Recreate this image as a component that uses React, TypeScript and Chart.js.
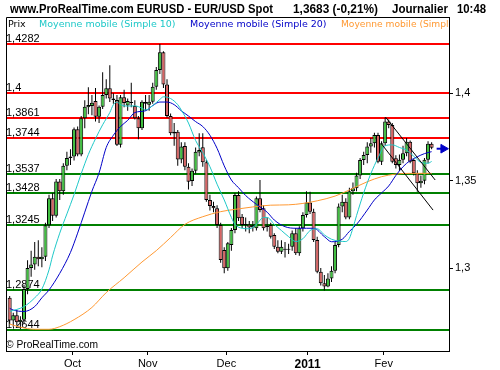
import React, { useEffect, useRef } from "react";
import { Chart, registerables } from "chart.js";

Chart.register(...registerables);

// ---- Daily candles (index 0 = first session shown, early September 2010) ----
const opens = [
  1.2830, 1.2700, 1.2730, 1.2690, 1.2705, 1.2880, 1.3000, 1.3020, 1.3065, 1.3050,
  1.3065, 1.3245, 1.3400, 1.3300, 1.3495, 1.3440, 1.3585, 1.3630, 1.3638, 1.3794,
  1.3650, 1.3857, 1.3920, 1.3927, 1.3956, 1.3866, 1.3923, 1.3990, 1.4029, 1.3970,
  1.3962, 1.3705, 1.3977, 1.3930, 1.3950, 1.3927, 1.3857, 1.3800, 1.3950, 1.3935,
  1.3952, 1.4038, 1.4133, 1.4235, 1.4050, 1.3870, 1.3780, 1.3780, 1.3622, 1.3699,
  1.3580, 1.3498, 1.3557, 1.3662, 1.3691, 1.3605, 1.3390, 1.3355, 1.3342, 1.3247,
  1.3104, 1.2999, 1.3132, 1.3218, 1.3418, 1.3294, 1.3247, 1.3250, 1.3232, 1.3228,
  1.3399, 1.3342, 1.3240, 1.3247, 1.3189, 1.3122, 1.3094, 1.3110, 1.3105, 1.3122,
  1.3199, 1.3085, 1.3228, 1.3304, 1.3375, 1.3323, 1.3161, 1.2979, 1.2913, 1.2895,
  1.2940, 1.2985, 1.3132, 1.3352, 1.3380, 1.3290, 1.3440, 1.3457, 1.3530, 1.3618,
  1.3647, 1.3695, 1.3714, 1.3761, 1.3609, 1.3714, 1.3838, 1.3819, 1.3628, 1.3590,
  1.3620, 1.3657, 1.3723, 1.3618, 1.3542, 1.3485, 1.3500, 1.3620, 1.3712,
];
const highs = [
  1.2840, 1.2745, 1.2760, 1.2725, 1.2905, 1.3045, 1.3100, 1.3150, 1.3160, 1.3120,
  1.3260, 1.3420, 1.3430, 1.3510, 1.3510, 1.3600, 1.3665, 1.3680, 1.3805, 1.3810,
  1.3870, 1.3960, 1.4035, 1.3990, 1.4030, 1.3930, 1.4120, 1.4080, 1.4160, 1.4000,
  1.3990, 1.3990, 1.4020, 1.3970, 1.4060, 1.3960, 1.3870, 1.3960, 1.3990, 1.3990,
  1.4060, 1.4150, 1.4282, 1.4240, 1.4080, 1.3885, 1.3830, 1.3790, 1.3720, 1.3720,
  1.3600, 1.3570, 1.3690, 1.3771, 1.3771, 1.3620, 1.3420, 1.3380, 1.3360, 1.3260,
  1.3120, 1.3150, 1.3230, 1.3430, 1.3440, 1.3310, 1.3290, 1.3270, 1.3270, 1.3410,
  1.3504, 1.3360, 1.3290, 1.3260, 1.3200, 1.3160, 1.3160, 1.3150, 1.3140, 1.3215,
  1.3230, 1.3240, 1.3320, 1.3440, 1.3437, 1.3340, 1.3180, 1.3000, 1.2960, 1.2970,
  1.3010, 1.3150, 1.3370, 1.3420, 1.3400, 1.3460, 1.3490, 1.3545, 1.3630, 1.3665,
  1.3720, 1.3745, 1.3775, 1.3775, 1.3725, 1.3862, 1.3850, 1.3830, 1.3645, 1.3650,
  1.3700, 1.3745, 1.3730, 1.3625, 1.3560, 1.3530, 1.3630, 1.3725, 1.3720,
];
const lows = [
  1.2680, 1.2665, 1.2670, 1.2650, 1.2680, 1.2850, 1.2950, 1.2990, 1.3010, 1.3005,
  1.3040, 1.3230, 1.3270, 1.3290, 1.3390, 1.3420, 1.3560, 1.3590, 1.3615, 1.3640,
  1.3640, 1.3800, 1.3880, 1.3875, 1.3838, 1.3830, 1.3910, 1.3970, 1.3950, 1.3940,
  1.3699, 1.3690, 1.3920, 1.3900, 1.3920, 1.3850, 1.3737, 1.3790, 1.3900, 1.3900,
  1.3940, 1.4020, 1.4110, 1.4030, 1.3860, 1.3760, 1.3700, 1.3585, 1.3600, 1.3560,
  1.3450, 1.3470, 1.3540, 1.3640, 1.3580, 1.3380, 1.3330, 1.3320, 1.3230, 1.3030,
  1.2970, 1.2985, 1.3100, 1.3200, 1.3270, 1.3230, 1.3210, 1.3200, 1.3210, 1.3215,
  1.3320, 1.3215, 1.3210, 1.3170, 1.3110, 1.3085, 1.3080, 1.3060, 1.3080, 1.3100,
  1.3075, 1.3070, 1.3210, 1.3290, 1.3310, 1.3150, 1.2970, 1.2900, 1.2872, 1.2890,
  1.2920, 1.2970, 1.3120, 1.3320, 1.3280, 1.3280, 1.3420, 1.3440, 1.3510, 1.3590,
  1.3600, 1.3660, 1.3690, 1.3600, 1.3590, 1.3700, 1.3800, 1.3600, 1.3570, 1.3555,
  1.3600, 1.3640, 1.3600, 1.3530, 1.3437, 1.3460, 1.3480, 1.3600, 1.3680,
];
const closes = [
  1.2700, 1.2730, 1.2690, 1.2705, 1.2880, 1.3000, 1.3020, 1.3065, 1.3050, 1.3065,
  1.3245, 1.3400, 1.3300, 1.3495, 1.3440, 1.3585, 1.3630, 1.3638, 1.3794, 1.3650,
  1.3857, 1.3923, 1.3933, 1.3946, 1.3866, 1.3923, 1.3990, 1.4029, 1.3970, 1.3962,
  1.3705, 1.3977, 1.3945, 1.3956, 1.3945, 1.3857, 1.3800, 1.3952, 1.3940, 1.3952,
  1.4038, 1.4133, 1.4235, 1.4050, 1.3870, 1.3771, 1.3770, 1.3622, 1.3695, 1.3580,
  1.3494, 1.3557, 1.3666, 1.3676, 1.3605, 1.3390, 1.3355, 1.3343, 1.3247, 1.3046,
  1.2999, 1.3142, 1.3218, 1.3418, 1.3285, 1.3247, 1.3250, 1.3232, 1.3245, 1.3399,
  1.3332, 1.3228, 1.3235, 1.3180, 1.3122, 1.3094, 1.3122, 1.3105, 1.3110, 1.3199,
  1.3085, 1.3228, 1.3304, 1.3375, 1.3323, 1.3161, 1.2979, 1.2913, 1.2895, 1.2940,
  1.2985, 1.3132, 1.3352, 1.3380, 1.3290, 1.3440, 1.3457, 1.3530, 1.3618, 1.3647,
  1.3695, 1.3714, 1.3761, 1.3609, 1.3714, 1.3838, 1.3819, 1.3609, 1.3590, 1.3620,
  1.3657, 1.3723, 1.3609, 1.3542, 1.3485, 1.3500, 1.3620, 1.3712, 1.3689,
];

// ---- Moving averages (day index, value) ----
const ma10Days = [0, 4, 7, 9, 11, 12, 14, 16, 18, 20, 22, 24, 26, 28, 29, 30, 31, 33, 35, 37, 38, 40, 42, 43, 45, 47, 48, 50, 52, 54, 56, 58, 60, 62, 63, 65, 67, 69, 71, 72, 74, 76, 78, 80, 82, 84, 86, 88, 90, 92, 94, 95, 96, 97, 99, 101, 103, 105, 107, 109, 111, 113, 115, 117, 118];
const ma10Values = [1.2752, 1.2780, 1.2830, 1.2880, 1.2990, 1.3070, 1.3200, 1.3310, 1.3420, 1.3540, 1.3650, 1.3740, 1.3820, 1.3890, 1.3935, 1.3950, 1.3935, 1.3927, 1.3928, 1.3915, 1.3905, 1.3930, 1.3965, 1.3980, 1.3970, 1.3935, 1.3904, 1.3830, 1.3730, 1.3660, 1.3580, 1.3480, 1.3390, 1.3290, 1.3250, 1.3228, 1.3225, 1.3250, 1.3290, 1.3290, 1.3250, 1.3215, 1.3180, 1.3152, 1.3168, 1.3215, 1.3225, 1.3190, 1.3165, 1.3155, 1.3152, 1.3170, 1.3230, 1.3300, 1.3430, 1.3540, 1.3630, 1.3700, 1.3705, 1.3690, 1.3675, 1.3640, 1.3605, 1.3600, 1.3610];

const ma20Days = [0, 1, 4, 7, 9, 11, 14, 17, 19, 21, 23, 25, 27, 29, 31, 33, 35, 38, 40, 42, 44, 46, 48, 50, 52, 54, 56, 58, 60, 62, 64, 66, 69, 72, 74, 77, 80, 83, 85, 88, 90, 93, 95, 97, 100, 102, 104, 106, 108, 110, 112, 114, 116, 118];
const ma20Values = [1.2770, 1.2760, 1.2752, 1.2780, 1.2830, 1.2875, 1.2970, 1.3090, 1.3200, 1.3320, 1.3440, 1.3545, 1.3690, 1.3760, 1.3810, 1.3845, 1.3890, 1.3900, 1.3930, 1.3950, 1.3950, 1.3935, 1.3900, 1.3870, 1.3838, 1.3810, 1.3760, 1.3685, 1.3585, 1.3504, 1.3460, 1.3415, 1.3365, 1.3320, 1.3275, 1.3237, 1.3228, 1.3228, 1.3228, 1.3180, 1.3151, 1.3165, 1.3210, 1.3250, 1.3332, 1.3390, 1.3430, 1.3470, 1.3530, 1.3580, 1.3615, 1.3637, 1.3655, 1.3666];

const maLongDays = [0, 3, 7, 11, 14, 18, 23, 27, 32, 37, 41, 45, 49, 54, 59, 63, 68, 73, 78, 82, 86, 91, 95, 100, 104, 108, 112, 118];
const maLongValues = [1.2680, 1.2662, 1.2650, 1.2650, 1.2665, 1.2705, 1.2775, 1.2860, 1.2945, 1.3035, 1.3100, 1.3175, 1.3250, 1.3294, 1.3323, 1.3336, 1.3350, 1.3360, 1.3362, 1.3370, 1.3385, 1.3412, 1.3447, 1.3494, 1.3523, 1.3538, 1.3542, 1.3542];

// ---- Horizontal levels ----
const resistanceLevels = [1.4282, 1.4, 1.3861, 1.3744];
const supportLevels = [1.3537, 1.3428, 1.3245, 1.2874, 1.2644];

// ---- Channel drawn on the chart (day index, price) ----
const channelUpperDays = [105.1, 119.0];
const channelUpperValues = [1.3864, 1.3504];
const channelLowerDays = [104.0, 118.4];
const channelLowerValues = [1.3710, 1.3332];

// ---- Last price marker ----
const lastPrice = 1.3683;
const arrowShaftDays = [119.4, 120.9];
const arrowHeadDay = 121.3;

// ---- Axes ----
const monthTickDays = [17.6, 38.6, 60.6, 83.3, 104.6];
const monthLabels = ["Oct", "Nov", "Dec", "2011", "Fev"];
const priceTicks = [1.3, 1.35, 1.4];

const FONT = "Arial, 'Liberation Sans', Helvetica, sans-serif";
const LEGEND_FONT = "'DejaVu Sans', Verdana, sans-serif";
const GREEN_BODY = "#40c040";
const RED_BODY = "#d86464";
const CYAN = "#1ec8c8";
const BLUE = "#0000c8";
const ORANGE = "#ff9933";

const fmt = (v: number) => String(v).replace(".", ",");

export default function App() {
  const ref = useRef<HTMLCanvasElement | null>(null);

  useEffect(() => {
    document.body.style.margin = "0";
    const canvas = ref.current;
    if (!canvas) return;

    const wickData = opens.map((_, i) => ({ x: i, y: [lows[i], highs[i]] }));
    const bodyData = opens.map((o, i) => ({ x: i, y: [o, closes[i]] }));
    const bodyColors = opens.map((o, i) => (closes[i] >= o ? GREEN_BODY : RED_BODY));
    const pts = (xs: number[], ys: number[]) => xs.map((x, k) => ({ x, y: ys[k] }));

    const overlay = {
      id: "overlay",
      beforeDatasetsDraw(chart: any) {
        const { ctx, chartArea, scales } = chart;
        const y = scales.y;
        ctx.save();
        const all = [
          ...resistanceLevels.map((v) => ({ v, c: "#ff0000" })),
          ...supportLevels.map((v) => ({ v, c: "#008000" })),
        ];
        for (const lv of all) {
          const py = Math.round(y.getPixelForValue(lv.v));
          ctx.strokeStyle = lv.c;
          ctx.lineWidth = 2;
          ctx.beginPath();
          ctx.moveTo(chartArea.left, py);
          ctx.lineTo(chartArea.right, py);
          ctx.stroke();
        }
        ctx.fillStyle = "#000";
        ctx.font = `11px ${FONT}`;
        ctx.textBaseline = "alphabetic";
        ctx.textAlign = "left";
        for (const lv of all) {
          const py = Math.round(y.getPixelForValue(lv.v));
          ctx.fillText(fmt(lv.v), 6, py - 2);
        }
        ctx.font = `11px ${FONT}`;
        ctx.fillText("\u00a9 ProRealTime.com", 6, 348, 92);
        ctx.restore();
      },
      afterDraw(chart: any) {
        const { ctx, chartArea } = chart;
        ctx.save();
        ctx.strokeStyle = "#000";
        ctx.lineWidth = 1;
        ctx.beginPath();
        ctx.moveTo(chartArea.left + 0.5, chartArea.bottom);
        ctx.lineTo(chartArea.left + 0.5, chartArea.top + 0.5);
        ctx.lineTo(chartArea.right, chartArea.top + 0.5);
        ctx.stroke();
        ctx.fillStyle = "#000";
        ctx.textAlign = "left";
        ctx.textBaseline = "alphabetic";
        ctx.font = `bold 12px ${FONT}`;
        ctx.fillText("www.ProRealTime.com EURUSD - EUR/USD Spot", 10, 13, 263);
        ctx.fillText("1,3683 (-0,21%)", 293, 13, 85);
        ctx.fillText("Journalier", 392, 13, 56);
        ctx.fillText("10:48", 457, 13, 29);
        ctx.font = `9.5px ${LEGEND_FONT}`;
        ctx.fillStyle = "#000";
        ctx.fillText("Prix", 8, 27, 18);
        ctx.fillStyle = CYAN;
        ctx.fillText("Moyenne mobile (Simple 10)", 39, 27, 137);
        ctx.fillStyle = BLUE;
        ctx.fillText("Moyenne mobile (Simple 20)", 190, 27, 137);
        ctx.beginPath();
        ctx.rect(0, 0, chartArea.right - 1, 370);
        ctx.clip();
        ctx.fillStyle = ORANGE;
        ctx.fillText("Moyenne mobile (Simple 100)", 341, 27, 137);
        ctx.restore();
      },
    };

    const chart = new Chart(canvas, {
      type: "bar",
      data: {
        datasets: [
          {
            type: "bar",
            data: wickData as any,
            backgroundColor: "#000",
            borderWidth: 0,
            barThickness: 1,
            grouped: false,
            inflateAmount: 0,
            order: 6,
          } as any,
          {
            type: "bar",
            data: bodyData as any,
            backgroundColor: bodyColors,
            borderColor: "#000",
            borderWidth: 1,
            borderSkipped: false,
            barThickness: 4,
            minBarLength: 1,
            grouped: false,
            inflateAmount: 0,
            order: 5,
          } as any,
          {
            type: "line",
            data: pts(maLongDays, maLongValues) as any,
            borderColor: ORANGE,
            borderWidth: 1,
            pointRadius: 0,
            cubicInterpolationMode: "monotone",
            order: 4,
          } as any,
          {
            type: "line",
            data: pts(ma20Days, ma20Values) as any,
            borderColor: BLUE,
            borderWidth: 1,
            pointRadius: 0,
            cubicInterpolationMode: "monotone",
            order: 3,
          } as any,
          {
            type: "line",
            data: pts(ma10Days, ma10Values) as any,
            borderColor: CYAN,
            borderWidth: 1,
            pointRadius: 0,
            cubicInterpolationMode: "monotone",
            order: 2,
          } as any,
          {
            type: "line",
            data: pts(channelUpperDays, channelUpperValues) as any,
            borderColor: "#000",
            borderWidth: 1,
            pointRadius: 0,
            order: 1,
          } as any,
          {
            type: "line",
            data: pts(channelLowerDays, channelLowerValues) as any,
            borderColor: "#000",
            borderWidth: 1,
            pointRadius: 0,
            order: 1,
          } as any,
          {
            type: "line",
            data: arrowShaftDays.map((x) => ({ x, y: lastPrice })) as any,
            borderColor: BLUE,
            borderWidth: 2,
            pointRadius: 0,
            order: 0,
          } as any,
          {
            type: "line",
            data: [{ x: arrowHeadDay, y: lastPrice }] as any,
            showLine: false,
            pointStyle: "triangle",
            rotation: 90,
            pointRadius: 5,
            backgroundColor: BLUE,
            borderColor: BLUE,
            borderWidth: 1,
            order: 0,
          } as any,
        ],
      },
      options: {
        animation: false,
        responsive: false,
        devicePixelRatio: 1,
        events: [],
        layout: { padding: { top: 17, left: 3, right: 0, bottom: 0 } },
        plugins: {
          legend: { display: false },
          tooltip: { enabled: false },
          title: { display: false },
        },
        scales: {
          x: {
            type: "linear",
            min: -1.03,
            max: 122.86,
            offset: false,
            afterFit: (s: any) => {
              s.height = 19;
            },
            afterBuildTicks: (s: any) => {
              s.ticks = monthTickDays.map((v) => ({ value: v }));
            },
            grid: {
              drawOnChartArea: false,
              drawTicks: true,
              tickLength: 4,
              color: "#000",
              offset: false,
            },
            border: { display: true, color: "#000", width: 1 },
            ticks: {
              autoSkip: false,
              maxRotation: 0,
              padding: 2,
              color: "#000",
              font: (c: any) =>
                c.index === 3
                  ? { family: FONT, size: 12, weight: "bold" }
                  : { family: FONT, size: 11 },
              callback: (_v: any, i: number) => monthLabels[i],
            },
          },
          y: {
            type: "linear",
            position: "right",
            min: 1.25258,
            max: 1.44365,
            afterFit: (s: any) => {
              s.width = 51;
            },
            afterBuildTicks: (s: any) => {
              s.ticks = priceTicks.map((v) => ({ value: v }));
            },
            grid: {
              drawOnChartArea: false,
              drawTicks: true,
              tickLength: 4,
              color: "#000",
            },
            border: { display: true, color: "#000", width: 1 },
            ticks: {
              padding: 2,
              color: "#000",
              font: { family: FONT, size: 11 },
              callback: (v: any) => fmt(Number(v)),
            },
          },
        },
      } as any,
      plugins: [overlay],
    });

    return () => chart.destroy();
  }, []);

  return <canvas ref={ref} width={500} height={370} style={{ display: "block" }} />;
}
